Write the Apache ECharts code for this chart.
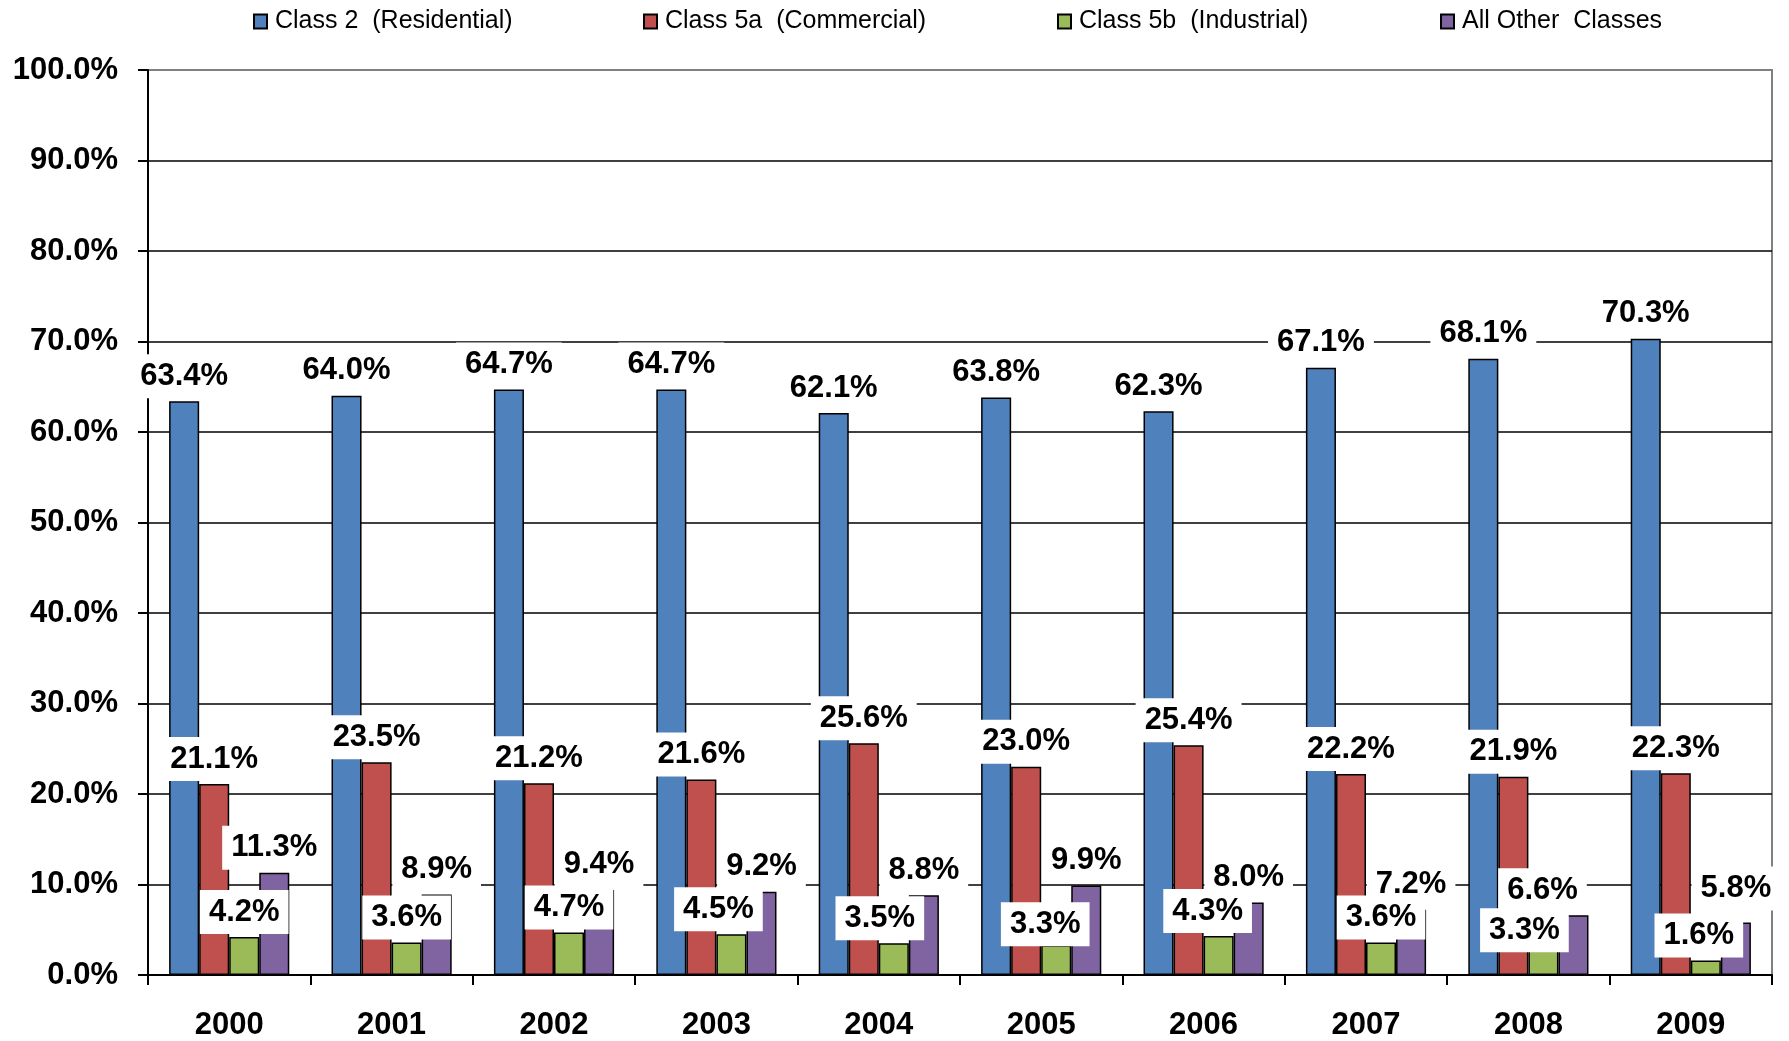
<!DOCTYPE html>
<html>
<head>
<meta charset="utf-8">
<script src="https://cdn.jsdelivr.net/npm/echarts@6/dist/echarts.min.js"></script>
<style>
  html, body { margin: 0; padding: 0; background: #fff; }
  #chart { width: 1789px; height: 1041px; }
</style>
</head>
<body>
<div id="chart"></div>
<script>
// years on the x axis
var years = ['2000', '2001', '2002', '2003', '2004', '2005', '2006', '2007', '2008', '2009'];

// share of each class, in percent
var residential = [63.4, 64.0, 64.7, 64.7, 62.1, 63.8, 62.3, 67.1, 68.1, 70.3];
var commercial = [21.1, 23.5, 21.2, 21.6, 25.6, 23.0, 25.4, 22.2, 21.9, 22.3];
var industrial = [4.2, 3.6, 4.7, 4.5, 3.5, 3.3, 4.3, 3.6, 3.3, 1.6];
var otherClasses = [11.3, 8.9, 9.4, 9.2, 8.8, 9.9, 8.0, 7.2, 6.6, 5.8];

var names = ['Class 2  (Residential)', 'Class 5a  (Commercial)', 'Class 5b  (Industrial)', 'All Other  Classes'];
var colors = ['#4F81BD', '#C0504D', '#9BBB59', '#8064A2'];

var FONT = '"Liberation Sans", Arial, sans-serif';

// a few labels were dragged by hand in the original, keyed by series then year index
var labelNudge = {
    2: { 3: [-13, 0], 4: [-14, 0], 5: [-11, 4], 6: [-11, 0], 8: [-19, 10], 9: [-7, 0] },
    3: { 8: [-31, 0], 9: [0, -9] }
};

function makeSeries(i, values) {
    var nudge = labelNudge[i] || {};
    return {
        name: names[i],
        type: 'bar',
        // industrial labels sit on top of the "other" labels in the original
        z: i === 2 ? 3 : 2,
        data: values.map(function (v, k) {
            var item = { value: v };
            if (nudge[k]) item.label = { offset: nudge[k] };
            return item;
        }),
        barGap: 0,
        barCategoryGap: '26%',
        itemStyle: {
            color: colors[i],
            borderColor: '#000',
            borderWidth: 1.5
        },
        label: {
            show: true,
            position: 'top',
            distance: 3,
            formatter: function (p) { return p.value.toFixed(1) + '%'; },
            fontFamily: FONT,
            fontWeight: 'bold',
            fontSize: 31,
            color: '#000',
            lineHeight: 36,
            backgroundColor: '#fff',
            padding: [4, 9, 4, 9]
        }
    };
}

// one legend per item so each sits where the original put it
var legendLeft = [248, 638, 1052, 1435];
var legends = names.map(function (n, i) {
    return {
        data: [n],
        left: legendLeft[i],
        top: 4,
        icon: 'rect',
        itemWidth: 13,
        itemHeight: 14,
        textStyle: {
            fontFamily: FONT,
            fontSize: 25,
            color: '#000',
            padding: [0, 0, 0, 3]
        }
    };
});

var chart = echarts.init(document.getElementById('chart'), null, { renderer: 'canvas' });
chart.setOption({
    animation: false,
    backgroundColor: '#fff',
    legend: legends,
    grid: {
        left: 148,
        right: 17,
        top: 70,
        bottom: 66,
        show: true,
        borderColor: '#808080',
        borderWidth: 2
    },
    xAxis: {
        type: 'category',
        data: years,
        axisLine: { lineStyle: { color: '#000', width: 2 } },
        axisTick: { show: true, length: 10, lineStyle: { color: '#000', width: 2 } },
        axisLabel: {
            margin: 35,
            fontFamily: FONT,
            fontWeight: 'bold',
            fontSize: 31,
            color: '#000'
        }
    },
    yAxis: {
        type: 'value',
        min: 0,
        max: 100,
        interval: 10,
        axisLine: { show: true, lineStyle: { color: '#000', width: 2 } },
        axisTick: { show: true, length: 10, lineStyle: { color: '#000', width: 2 } },
        axisLabel: {
            margin: 30,
            padding: [4, 0, 0, 0],
            fontFamily: FONT,
            fontWeight: 'bold',
            fontSize: 31,
            color: '#000',
            formatter: function (v) { return v.toFixed(1) + '%'; }
        },
        splitLine: {
            show: true,
            lineStyle: {
                color: ['#000', '#000', '#000', '#000', '#000', '#000', '#000', '#000', '#000', '#000', '#808080'],
                width: 1.5
            }
        }
    },
    series: [
        makeSeries(0, residential),
        makeSeries(1, commercial),
        makeSeries(2, industrial),
        makeSeries(3, otherClasses)
    ]
});
</script>
</body>
</html>
